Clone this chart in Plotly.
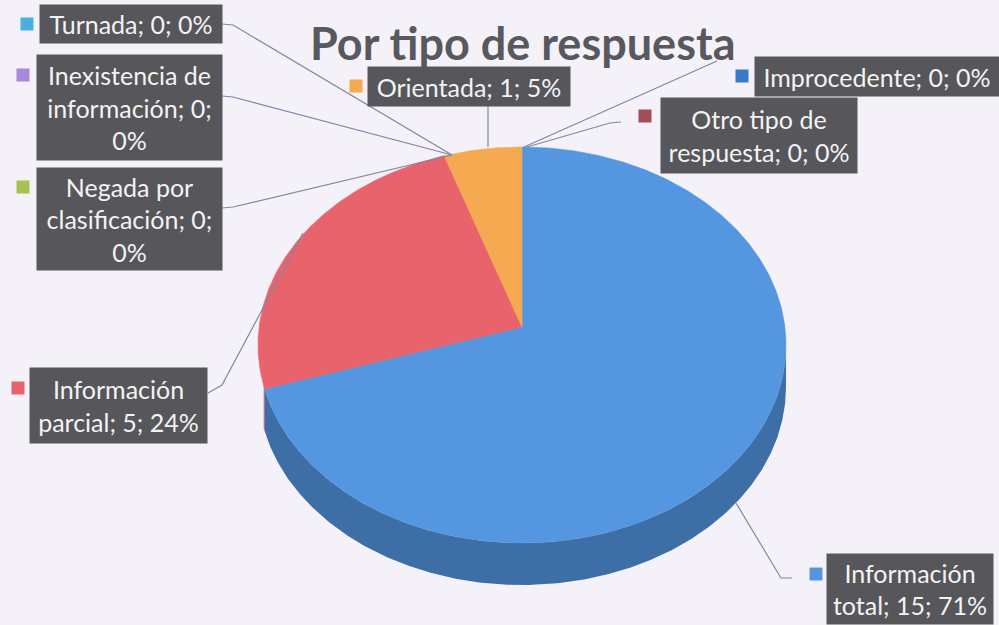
import textwrap
import numpy as np
import plotly.graph_objects as go

# ---------------- data ----------------
categories = ["Información total", "Información parcial", "Orientada", "Turnada",
              "Inexistencia de información", "Negada por clasificación",
              "Improcedente", "Otro tipo de respuesta"]
values = [15, 5, 1, 0, 0, 0, 0, 0]
title_text = "Por tipo de respuesta"

# ---------------- style ----------------
top_colors = ["#5596E0", "#E8636B", "#F5AA52", "#4BB0E0",
              "#A78BD8", "#A8C050", "#3A78C8", "#A24D58"]
side_colors = ["#3D6FA6", "#B04850", "#C07E35", "#3A8AB0",
               "#7D68A8", "#809538", "#2C5A96", "#7A3A42"]
BG = "#F4F2F8"
BOX = "#56565B"
LINE = "#8484A4"

# label box layout: centre x, centre y, width, height, wrap width
boxes = [
    (910, 589, 166, 70, 17),     # Información total
    (118.5, 405.5, 177, 75, 17), # Información parcial
    (469, 86, 202, 39, 17),      # Orientada
    (131, 24, 182, 38, 17),      # Turnada
    (129.5, 107.5, 185, 105, 17),# Inexistencia
    (129.5, 219, 185, 102, 17),  # Negada
    (877, 76, 244, 39, 20),      # Improcedente
    (759, 135, 196, 75, 17),     # Otro tipo
]
# legend-key squares (centre)
keys = [(816, 574), (18, 388), (356, 86), (27, 24), (23, 75), (23, 187), (742, 76), (645, 116)]
# leader line paths
leaders = [
    [(736, 503), (781, 578), (792, 578)],
    [(208, 393), (222, 385), (303, 233)],
    [(488, 105), (488, 147)],
    [(222, 24), (233, 25), (452, 155)],
    [(222, 96), (233, 97), (452, 155)],
    [(222, 208), (233, 207), (452, 155)],
    [(717, 61), (524, 147)],
    [(621, 122), (610, 123), (527, 147)],
]

# pie geometry (pixel space)
cx, cy, rx, ry = 522, 345, 264, 198
apex_dy = -18
depth = 42
side_from, side_to = 90, 258

total = sum(values)
cum = np.concatenate([[0], np.cumsum(values)]) / total * 360.0


def arc(t1, t2, dy=0.0):
    n = max(2, int(abs(t2 - t1) * 2) + 2)
    t = np.radians(np.linspace(t1, t2, n))
    return cx + rx * np.sin(t), cy - ry * np.cos(t) + dy


fig = go.Figure()

# sides (front half only)
for i, v in enumerate(values):
    if v <= 0:
        continue
    a, b = max(cum[i], side_from), min(cum[i + 1], side_to)
    if b <= a:
        continue
    x1, y1 = arc(a, b)
    x2, y2 = arc(b, a, depth)
    fig.add_trace(go.Scatter(x=np.concatenate([x1, x2]), y=np.concatenate([y1, y2]),
                             fill="toself", fillcolor=side_colors[i], mode="lines",
                             line=dict(width=0, color=side_colors[i]),
                             hoverinfo="skip", showlegend=False))

# top faces
for i, v in enumerate(values):
    if v <= 0:
        continue
    xa, ya = arc(cum[i], cum[i + 1])
    xs = np.concatenate([[cx], xa, [cx]])
    ys = np.concatenate([[cy + apex_dy], ya, [cy + apex_dy]])
    fig.add_trace(go.Scatter(x=xs, y=ys, fill="toself", fillcolor=top_colors[i],
                             mode="lines", line=dict(width=0.6, color=top_colors[i]),
                             name=categories[i], hoverinfo="name", showlegend=False))

shapes = []
annotations = []
for i, (cat, v) in enumerate(zip(categories, values)):
    pct = round(v / total * 100)
    label = f"{cat}; {v}; {pct}%"
    bx, by, bw, bh, ww = boxes[i]
    text = "<br>".join(textwrap.wrap(label, width=ww))
    pts = leaders[i]
    path = "M " + " L ".join(f"{x},{y}" for x, y in pts)
    shapes.append(dict(type="path", path=path, xref="x", yref="y",
                       line=dict(color=LINE, width=1.2), layer="above"))
    kx, ky = keys[i]
    shapes.append(dict(type="rect", xref="x", yref="y", x0=kx - 6.5, x1=kx + 6.5,
                       y0=ky - 6.5, y1=ky + 6.5, fillcolor=top_colors[i],
                       line=dict(width=0), layer="above"))
    annotations.append(dict(x=bx, y=by, xref="x", yref="y", text=text, showarrow=False,
                            xanchor="center", yanchor="middle", align="center",
                            valign="middle", width=bw, height=bh, borderpad=0,
                            bgcolor=BOX, font=dict(family="Lato", size=25, color="#F3F3F3")))

annotations.append(dict(x=523, y=43, xref="x", yref="y", text=f"<b>{title_text}</b>",
                        showarrow=False, xanchor="center", yanchor="middle",
                        font=dict(family="Lato", size=45, color="#58585F")))

fig.update_layout(
    width=999, height=625,
    margin=dict(l=0, r=0, t=0, b=0),
    paper_bgcolor=BG, plot_bgcolor=BG,
    xaxis=dict(range=[0, 999], visible=False, fixedrange=True),
    yaxis=dict(range=[625, 0], visible=False, fixedrange=True),
    shapes=shapes, annotations=annotations, showlegend=False,
)

fig.write_html("out.html", config={"displayModeBar": False},
               post_script="document.body.style.margin='0';")
